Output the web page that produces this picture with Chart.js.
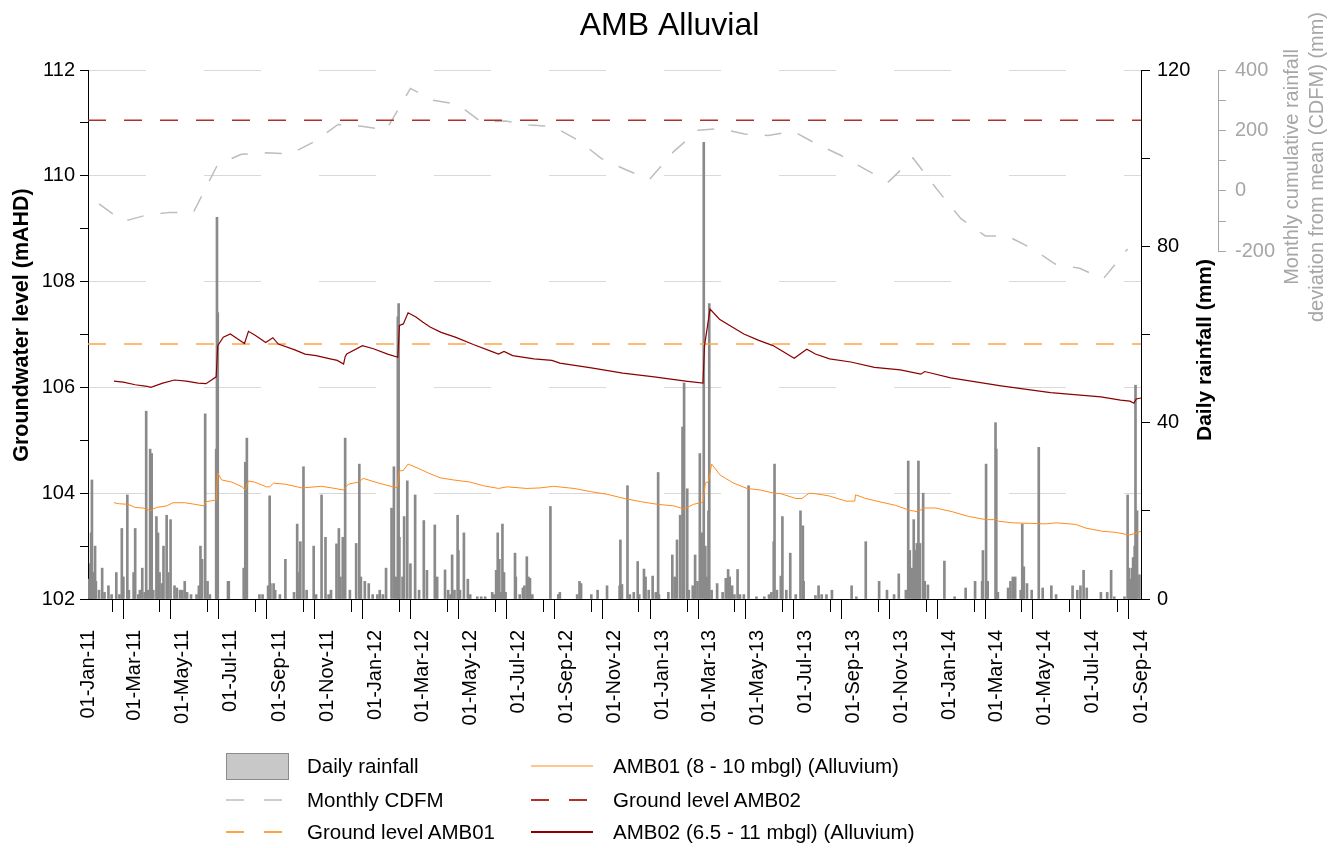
<!DOCTYPE html>
<html><head><meta charset="utf-8">
<script src="https://cdn.jsdelivr.net/npm/chart.js@4.4.1/dist/chart.umd.min.js"></script>
<style>
html,body{margin:0;padding:0;background:#fff;}
#wrap{position:relative;width:1339px;height:848px;overflow:hidden;}
#c{position:absolute;left:0;top:0;}
.lt{position:absolute;font-family:"Liberation Sans",Arial,sans-serif;font-size:20.5px;line-height:1;color:#000;white-space:nowrap;}
.ls{position:absolute;}
</style></head><body>
<div id="wrap"><canvas id="c" width="1339" height="848"></canvas><div id="legend"></div></div>
<script>
// ---------------- DATA ----------------
const chartTitle = 'AMB Alluvial';
// daily rainfall events: day offset from 01-Jan-11, mm
const rainDay = [1,3,4,5,7,9,10,14,18,21,26,30,36,40,43,45,50,52,58,60,64,66,69,72,74,76,79,81,83,87,89,91,94,96,100,102,105,110,113,117,120,123,126,131,138,141,143,145,149,152,155,163,164,165,178,179,198,200,202,218,222,229,231,232,236,238,244,251,262,266,268,270,274,278,287,290,297,302,306,309,316,319,321,324,327,333,341,345,347,352,357,362,368,371,375,379,386,389,392,394,395,396,400,402,406,410,416,421,427,431,441,444,
454,458,461,463,466,470,471,473,478,483,486,495,500,505,514,516,519,521,523,525,527,529,531,543,544,549,553,555,558,560,562,565,588,598,600,622,625,627,640,648,660,676,677,679,686,689,694,699,701,707,709,713,718,722,725,726,738,743,746,749,753,756,758,762,764,769,772,775,778,781,783,785,787,789,790,793,800,807,811,814,816,819,822,826,829,834,840,850,860,866,869,872,873,876,881,883,888,893,
900,906,909,910,925,929,933,939,946,971,977,989,1006,1016,1025,1031,1040,1043,1045,1048,1050,1052,1054,1056,1058,1062,1064,1068,1089,1102,1116,1128,1137,1138,1142,1144,1154,1155,1157,1170,1173,1176,1179,1186,1188,1190,1194,1200,1209,1214,1225,1231,1252,1258,1262,1266,1270,1288,1296,1301,1305,1318,1322,1324,1326,1328,1329,1331,1332,1334,1337];
const rainMm = [4.5,8,15,27,6,12,4,2,7,1.5,3,1,6,1,16,5,23.6,2,6,16,1,2,7,1.5,42.6,2,34,33,2,18.7,15,6,3.5,12,19,6,18,3,2.5,2,2,4,1.5,1,1,3,12,9,42,4,1,34,86.6,65,4,4,7,31,36.5,1,1,3,23.4,3.5,3.5,2,1,9,1.5,17,6,13,30,2,12,1,23.6,14,1,2,12.5,16,5,14,36.5,2,12.6,30.6,5,4,3.5,1,1,2,1,7,20.6,30,5,64,67,14,5,18.7,26.8,8,23.6,2,17.8,6.5,16.8,5,
6.6,2,1,10,2,19,11,2,15,4.5,1,0.5,0.5,0.5,1.5,1,6.5,15,9,1.5,17,6,1.5,10.4,5,1,2.5,3,9.6,5,4.7,1,21,1,1.5,1,4,3.5,1,2,3,3,13.4,3.3,25.7,1,1.5,8.5,1,6.8,5,2,5.2,1.5,28.7,1,1.5,10,5,13.4,19,39,49,25,2,3,10,4,33,15,103.6,12,5,20,67,2,3.5,1.5,4.7,6.7,5,3,1,6.7,1,1,25.7,0.5,0.5,1,1.5,13,30.6,2,5.2,18.7,2,10.4,
1,20,16.6,4,0.8,3,1,1,2,3,0.5,13,4,2,1,5.7,2,31.3,11,7,18,11,12.6,31.3,12.6,24,4,3.2,8.6,0.5,2.5,4,4,11,30.6,4,40,34,1.5,2.5,4,5,5,2,17,7.3,3.5,2,34.4,2.5,3,1,3,2,3,6.5,2.5,1.5,1.5,6.5,0.5,0.5,23.6,7,4.5,7,9.4,12,48.5,20,5.5];

// AMB01 groundwater level (mAHD)
const amb01Day = [33,40,51,60,70,79,87,100,108,123,136,147,150,163,165,170,183,196,200,204,212,227,231,236,251,272,297,310,325,331,344,350,370,393,396,401,407,420,433,448,465,486,503,522,533,558,575,592,618,639,660,682,703,724,745,758,770,782,785,789,793,804,821,838,855,872,881,894,900,908,917,925,942,964,975,976,989,1006,1027,1044,1055,1063,1078,1099,1120,1142,1155,1158,1176,1197,1218,1231,1256,1269,1290,1307,1324,1332,1339];
const amb01Level = [103.82,103.80,103.79,103.73,103.72,103.67,103.73,103.76,103.82,103.82,103.79,103.76,103.84,103.87,104.38,104.25,104.21,104.12,104.06,104.23,104.21,104.12,104.12,104.19,104.17,104.10,104.13,104.10,104.06,104.17,104.21,104.28,104.19,104.10,104.42,104.43,104.55,104.47,104.38,104.29,104.25,104.21,104.14,104.09,104.12,104.09,104.10,104.13,104.09,104.03,103.98,103.90,103.84,103.79,103.76,103.70,103.79,103.83,104.19,104.22,104.55,104.34,104.19,104.09,104.06,104.00,103.99,103.93,103.90,103.90,104.00,103.99,103.95,103.85,103.85,103.97,103.90,103.84,103.77,103.68,103.65,103.72,103.72,103.65,103.56,103.50,103.50,103.47,103.44,103.43,103.42,103.44,103.41,103.34,103.28,103.26,103.21,103.24,103.28];

// AMB02 groundwater level (mAHD)
const amb02Day = [33,45,60,75,80,95,110,125,140,150,158,163,165,172,181,190,199,204,213,226,235,242,263,276,290,308,317,325,327,329,349,363,381,394,396,401,407,417,426,435,449,467,490,513,522,529,540,567,590,600,640,680,720,760,782,784,791,803,816,834,853,871,880,898,914,925,943,970,1000,1033,1059,1064,1097,1161,1224,1288,1313,1325,1330,1333,1339];
const amb02Level = [106.12,106.10,106.05,106.02,106.00,106.08,106.14,106.12,106.08,106.07,106.15,106.20,106.79,106.95,107.01,106.92,106.83,107.06,106.98,106.85,106.94,106.82,106.71,106.63,106.60,106.54,106.51,106.44,106.58,106.63,106.79,106.73,106.63,106.57,107.17,107.20,107.41,107.33,107.23,107.14,107.04,106.95,106.81,106.68,106.63,106.68,106.60,106.54,106.51,106.46,106.37,106.27,106.20,106.12,106.08,106.79,107.48,107.29,107.17,107.01,106.89,106.79,106.71,106.55,106.72,106.63,106.54,106.48,106.38,106.33,106.25,106.30,106.18,106.03,105.90,105.82,105.76,105.74,105.70,105.78,105.80];

// Monthly CDFM (mm), mid-month, Jan-11 .. Aug-14
const cdfmStart = [2011, 0];
const cdfmValue = [-43,-101,-81,-71,-71,88,121,126,122,162,220,214,201,339,300,287,228,231,218,213,168,107,70,38,131,201,206,188,183,198,156,118,72,30,109,7,-92,-149,-149,-190,-242,-256,-291,-192];

const groundAMB01 = 106.82;
const groundAMB02 = 111.05;

const monthNames = ['Jan','Feb','Mar','Apr','May','Jun','Jul','Aug','Sep','Oct','Nov','Dec'];
const xStart = [2011, 0], xEnd = [2014, 8];

const seriesNames = ['Daily rainfall','Monthly CDFM','Ground level AMB01','AMB01 (8 - 10 mbgl) (Alluvium)','Ground level AMB02','AMB02 (6.5 - 11 mbgl) (Alluvium)'];
const axisTitles = {y:'Groundwater level (mAHD)', rain:'Daily rainfall (mm)', cdfm:['Monthly cumulative rainfall','deviation from mean (CDFM) (mm)']};

// ---------------- helpers ----------------
const T0 = Date.UTC(2011,0,1);
const dayOf = (y,m,d) => Math.round((Date.UTC(y,m,d) - T0)/864e5);
const monthTicks = [];
{ let y = xStart[0], m = xStart[1];
  while (y < xEnd[0] || (y === xEnd[0] && m <= xEnd[1])) {
    monthTicks.push({value: dayOf(y,m,1), label: (m % 2 === 0) ? '01-' + monthNames[m] + '-' + String(y).slice(2) : '', major: m % 2 === 0});
    m++; if (m > 11) { m = 0; y++; }
  } }
const xMax = dayOf(xEnd[0], xEnd[1], 1);
const tickLabelByDay = {}; monthTicks.forEach(t => tickLabelByDay[t.value] = t);

const rainData = rainDay.map((d,i) => ({x: d, y: rainMm[i]}));
const amb01Data = amb01Day.map((d,i) => ({x: d, y: amb01Level[i]}));
const amb02Data = amb02Day.map((d,i) => ({x: d, y: amb02Level[i]}));
const cdfmData = cdfmValue.map((v,i) => { const m = cdfmStart[1] + i; return {x: dayOf(cdfmStart[0] + Math.floor(m/12), m % 12, 15), y: v}; });

const FONT = '"Liberation Sans", Arial, sans-serif';
const C = {rain:'#8a8a8a', cdfm:'#bdbdbd', g1:'#ffa445', g2:'#b0302a', a1:'#ff8c1a', a2:'#8b0000', grid:'#d9d9d9', cdfmAxis:'#a6a6a6'};

// ---------------- decorations plugin ----------------
function vText(ctx, text, cx, cy, font, color) {
  ctx.save(); ctx.translate(cx, cy); ctx.rotate(-Math.PI/2);
  ctx.font = font; ctx.fillStyle = color; ctx.textAlign = 'center'; ctx.textBaseline = 'middle';
  ctx.fillText(text, 0, 0); ctx.restore();
}
const decor = {
  id: 'decor',
  afterDraw(chart) {
    const ctx = chart.ctx, x = chart.scales.x, yL = chart.scales.y, yR = chart.scales.rain, yC = chart.scales.cdfm;
    ctx.save();
    ctx.lineWidth = 1; ctx.strokeStyle = '#000';
    x.ticks.forEach(t => {
      const info = tickLabelByDay[t.value];
      if (info && !info.major) {
        const px = Math.round(x.getPixelForValue(t.value)) + 0.5;
        ctx.beginPath(); ctx.moveTo(px, x.top); ctx.lineTo(px, x.top + 13); ctx.stroke();
      }
    });
    ctx.strokeStyle = C.cdfmAxis;
    const lx = Math.round(yC.left) + 0.5;
    ctx.beginPath(); ctx.moveTo(lx, Math.round(yC.getPixelForValue(400))); ctx.lineTo(lx, Math.round(yC.getPixelForValue(-200)) + 1); ctx.stroke();
    const ca = chart.chartArea;
    vText(ctx, yL.options.title.text, 22, 325, 'bold 21.5px ' + FONT, '#000');
    vText(ctx, yR.options.title.text, yR.left + 64, 350, 'bold 21px ' + FONT, '#000');
    const ct = yC.options.title.text;
    vText(ctx, ct[0], yC.left + 74, 167, '20px ' + FONT, '#a6a6a6');
    vText(ctx, ct[1], yC.left + 99, 167, '20px ' + FONT, '#a6a6a6');
    ctx.restore();
  }
};

// ---------------- chart ----------------
const tickFont = {family: FONT, size: 20};
new Chart(document.getElementById('c'), {
  type: 'line',
  data: { datasets: [
    {type:'bar', label: seriesNames[0], data: rainData, xAxisID:'x', yAxisID:'rain', backgroundColor: C.rain, borderWidth: 0, barThickness: 2, order: 10},
    {label: seriesNames[1], data: cdfmData, yAxisID:'cdfm', borderColor: C.cdfm, borderWidth: 1.5, borderDash:[17,17], pointRadius:0, tension:0, order: 5},
    {label: seriesNames[2], data: [{x:0,y:groundAMB01},{x:xMax,y:groundAMB01}], yAxisID:'y', borderColor: C.g1, borderWidth: 1.6, borderDash:[18,18], pointRadius:0, order: 4},
    {label: seriesNames[3], data: amb01Data, yAxisID:'y', borderColor: C.a1, borderWidth: 1, pointRadius:0, tension:0, order: 2},
    {label: seriesNames[4], data: [{x:0,y:groundAMB02},{x:xMax,y:groundAMB02}], yAxisID:'y', borderColor: C.g2, borderWidth: 1.6, borderDash:[18,18], pointRadius:0, order: 3},
    {label: seriesNames[5], data: amb02Data, yAxisID:'y', borderColor: C.a2, borderWidth: 1.2, pointRadius:0, tension:0, order: 1}
  ]},
  options: {
    responsive: false, animation: false, events: [],
    layout: {padding: {left:0, right:0, top:0, bottom:0}, autoPadding: false},
    plugins: {
      legend: {display: false}, tooltip: {enabled: false},
      title: {display: true, text: chartTitle, color:'#000', font:{family: FONT, size: 32, weight:'normal'}, padding:{top: 7, bottom: 24.6}}
    },
    scales: {
      x: {type:'linear', position:'bottom', min:0, max:xMax, offset:false,
        afterBuildTicks: s => { s.ticks = monthTicks.map(t => ({value: t.value})); },
        afterFit: s => { s.height = 848 - 599; },
        ticks: {autoSkip:false, maxRotation:90, minRotation:90, padding: 11, font: tickFont, color:'#000',
          callback: v => (tickLabelByDay[v] ? tickLabelByDay[v].label : '')},
        grid: {drawOnChartArea:false, tickLength:20, tickColor: c => (c.tick && tickLabelByDay[c.tick.value] && tickLabelByDay[c.tick.value].major) ? '#000' : 'rgba(0,0,0,0)'},
        border: {display:true, color:'#000', width:1}
      },
      y: {type:'linear', position:'left', min:102, max:112, weight: 0,
        afterFit: s => { s.width = 88; },
        ticks: {stepSize:1, padding:5, font: tickFont, color:'#000', callback: v => (v % 2 === 0 ? v : '')},
        grid: {color: c => (c.tick && c.tick.value % 2 === 0 && c.tick.value !== 102) ? C.grid : 'rgba(0,0,0,0)', tickLength:8, tickColor:'#000', lineWidth:1},
        border: {display:true, color:'#000', dash:[57,58]},
        title: {display:false, text: axisTitles.y}
      },
      rain: {type:'linear', position:'right', min:0, max:120, weight: 1,
        afterFit: s => { s.width = 77; },
        ticks: {stepSize:20, padding:7, font: tickFont, color:'#000', callback: v => (v % 40 === 0 ? v : '')},
        grid: {drawOnChartArea:false, tickLength:9, tickColor:'#000'},
        border: {display:true, color:'#000'},
        title: {display:false, text: axisTitles.rain}
      },
      cdfm: {type:'linear', position:'right', min:-1350, max:400, weight: 2,
        afterFit: s => { s.width = 121; },
        afterBuildTicks: s => { s.ticks = [-200,-100,0,100,200,300,400].map(v => ({value:v})); },
        ticks: {padding:9, font: tickFont, color:'#a6a6a6', callback: v => (v % 200 === 0 ? v : '')},
        grid: {drawOnChartArea:false, tickLength:8, tickColor:C.cdfmAxis},
        border: {display:false},
        title: {display:false, text: axisTitles.cdfm}
      }
    }
  },
  plugins: [decor]
});

// ---------------- legend (HTML) ----------------
const legendItems = [
  {name: seriesNames[0], kind:'box', col:0, row:0},
  {name: seriesNames[1], kind:'dash', color:C.cdfm, w:1.6, col:0, row:1},
  {name: seriesNames[2], kind:'dash', color:C.g1, w:1.8, col:0, row:2},
  {name: seriesNames[3], kind:'line', color:C.a1, w:1.2, col:1, row:0},
  {name: seriesNames[4], kind:'dash', color:C.g2, w:1.8, col:1, row:1},
  {name: seriesNames[5], kind:'line', color:C.a2, w:2, col:1, row:2}
];
const legCols = [{sx:226, tx:307}, {sx:531, tx:613}];
const legRows = [766, 800, 832];
const legEl = document.getElementById('legend');
legendItems.forEach(it => {
  const col = legCols[it.col], cy = legRows[it.row];
  let sample;
  if (it.kind === 'box') {
    sample = `<div class="ls" style="left:${col.sx}px;top:${cy-13}px;width:61px;height:25px;background:#c8c8c8;border:1px solid #8c8c8c;"></div>`;
  } else {
    const dash = it.kind === 'dash' ? 'stroke-dasharray="18 20"' : '';
    sample = `<svg class="ls" style="left:${col.sx}px;top:${cy-5}px" width="62" height="10"><line x1="0" y1="5" x2="62" y2="5" stroke="${it.color}" stroke-width="${it.w}" ${dash}/></svg>`;
  }
  legEl.insertAdjacentHTML('beforeend', sample + `<div class="lt" style="left:${col.tx}px;top:${cy-10}px">${it.name}</div>`);
});
</script></body></html>
